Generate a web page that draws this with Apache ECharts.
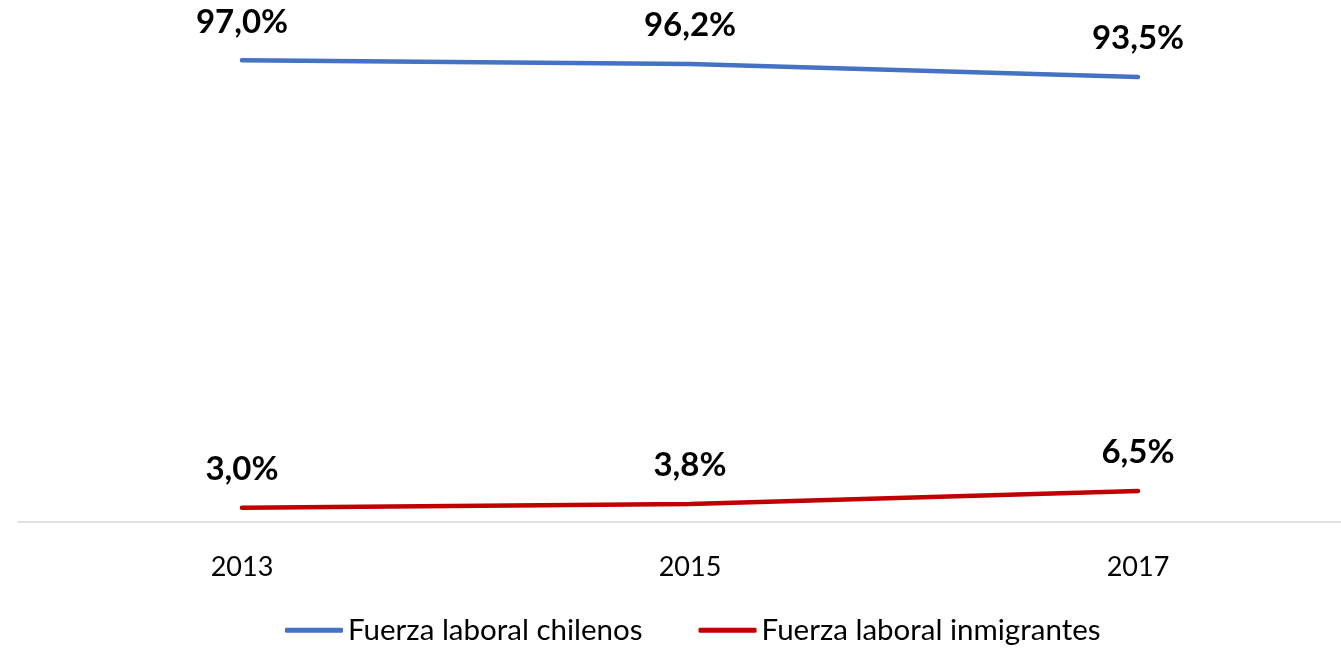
<style>
body { margin: 0; overflow: hidden; }
#chartElem { width: 1341px; height: 649px; }
</style>

<div id="chartElem"></div>

<script src="https://cdn.jsdelivr.net/npm/echarts@6/dist/echarts.min.js"></script>

<script>

let years = ["2013", "2015", "2017"];
let chilenos = [97.0, 96.2, 93.5];
let inmigrantes = [3.0, 3.8, 6.5];

let fontName = "Lato";

let chart = echarts.init(document.getElementById("chartElem"));

function pctLabel(p) {
	return p.value.toFixed(1).replace(".", ",") + "%";
}

let labelStyle = {
	show: true,
	position: "top",
	distance: 13,
	formatter: pctLabel,
	fontFamily: fontName,
	fontWeight: "bold",
	fontSize: 33,
	color: "#000"
};

chart.setOption({
	animation: false,
	grid: {
		left: 18,
		top: 46,
		width: 1344,
		height: 476,
		containLabel: false,
		outerBoundsMode: "none"
	},
	legend: {
		top: 603,
		left: 280,
		itemGap: 56,
		itemWidth: 58,
		itemHeight: 5,
		icon: "roundRect",
		textStyle: {
			fontFamily: fontName,
			fontSize: 29.5,
			color: "#000"
		},
		data: ["Fuerza laboral chilenos", "Fuerza laboral inmigrantes"]
	},
	xAxis: {
		type: "category",
		data: years,
		boundaryGap: true,
		axisLine: {lineStyle: {color: "#d9d9d9", width: 1.5}},
		axisTick: {show: false},
		axisLabel: {
			margin: 25,
			fontFamily: fontName,
			fontSize: 27,
			color: "#000"
		}
	},
	yAxis: {
		type: "value",
		min: 0,
		max: 100,
		show: false,
		splitLine: {show: false}
	},
	series: [
		{
			name: "Fuerza laboral chilenos",
			type: "line",
			data: chilenos,
			symbol: "circle",
			symbolSize: 0,
			lineStyle: {color: "#4472c4", width: 4.5, cap: "round"},
			itemStyle: {color: "#4472c4"},
			label: labelStyle
		},
		{
			name: "Fuerza laboral inmigrantes",
			type: "line",
			data: inmigrantes,
			symbol: "circle",
			symbolSize: 0,
			lineStyle: {color: "#c00000", width: 4.5, cap: "round"},
			itemStyle: {color: "#c00000"},
			label: labelStyle
		}
	]
});

</script>
